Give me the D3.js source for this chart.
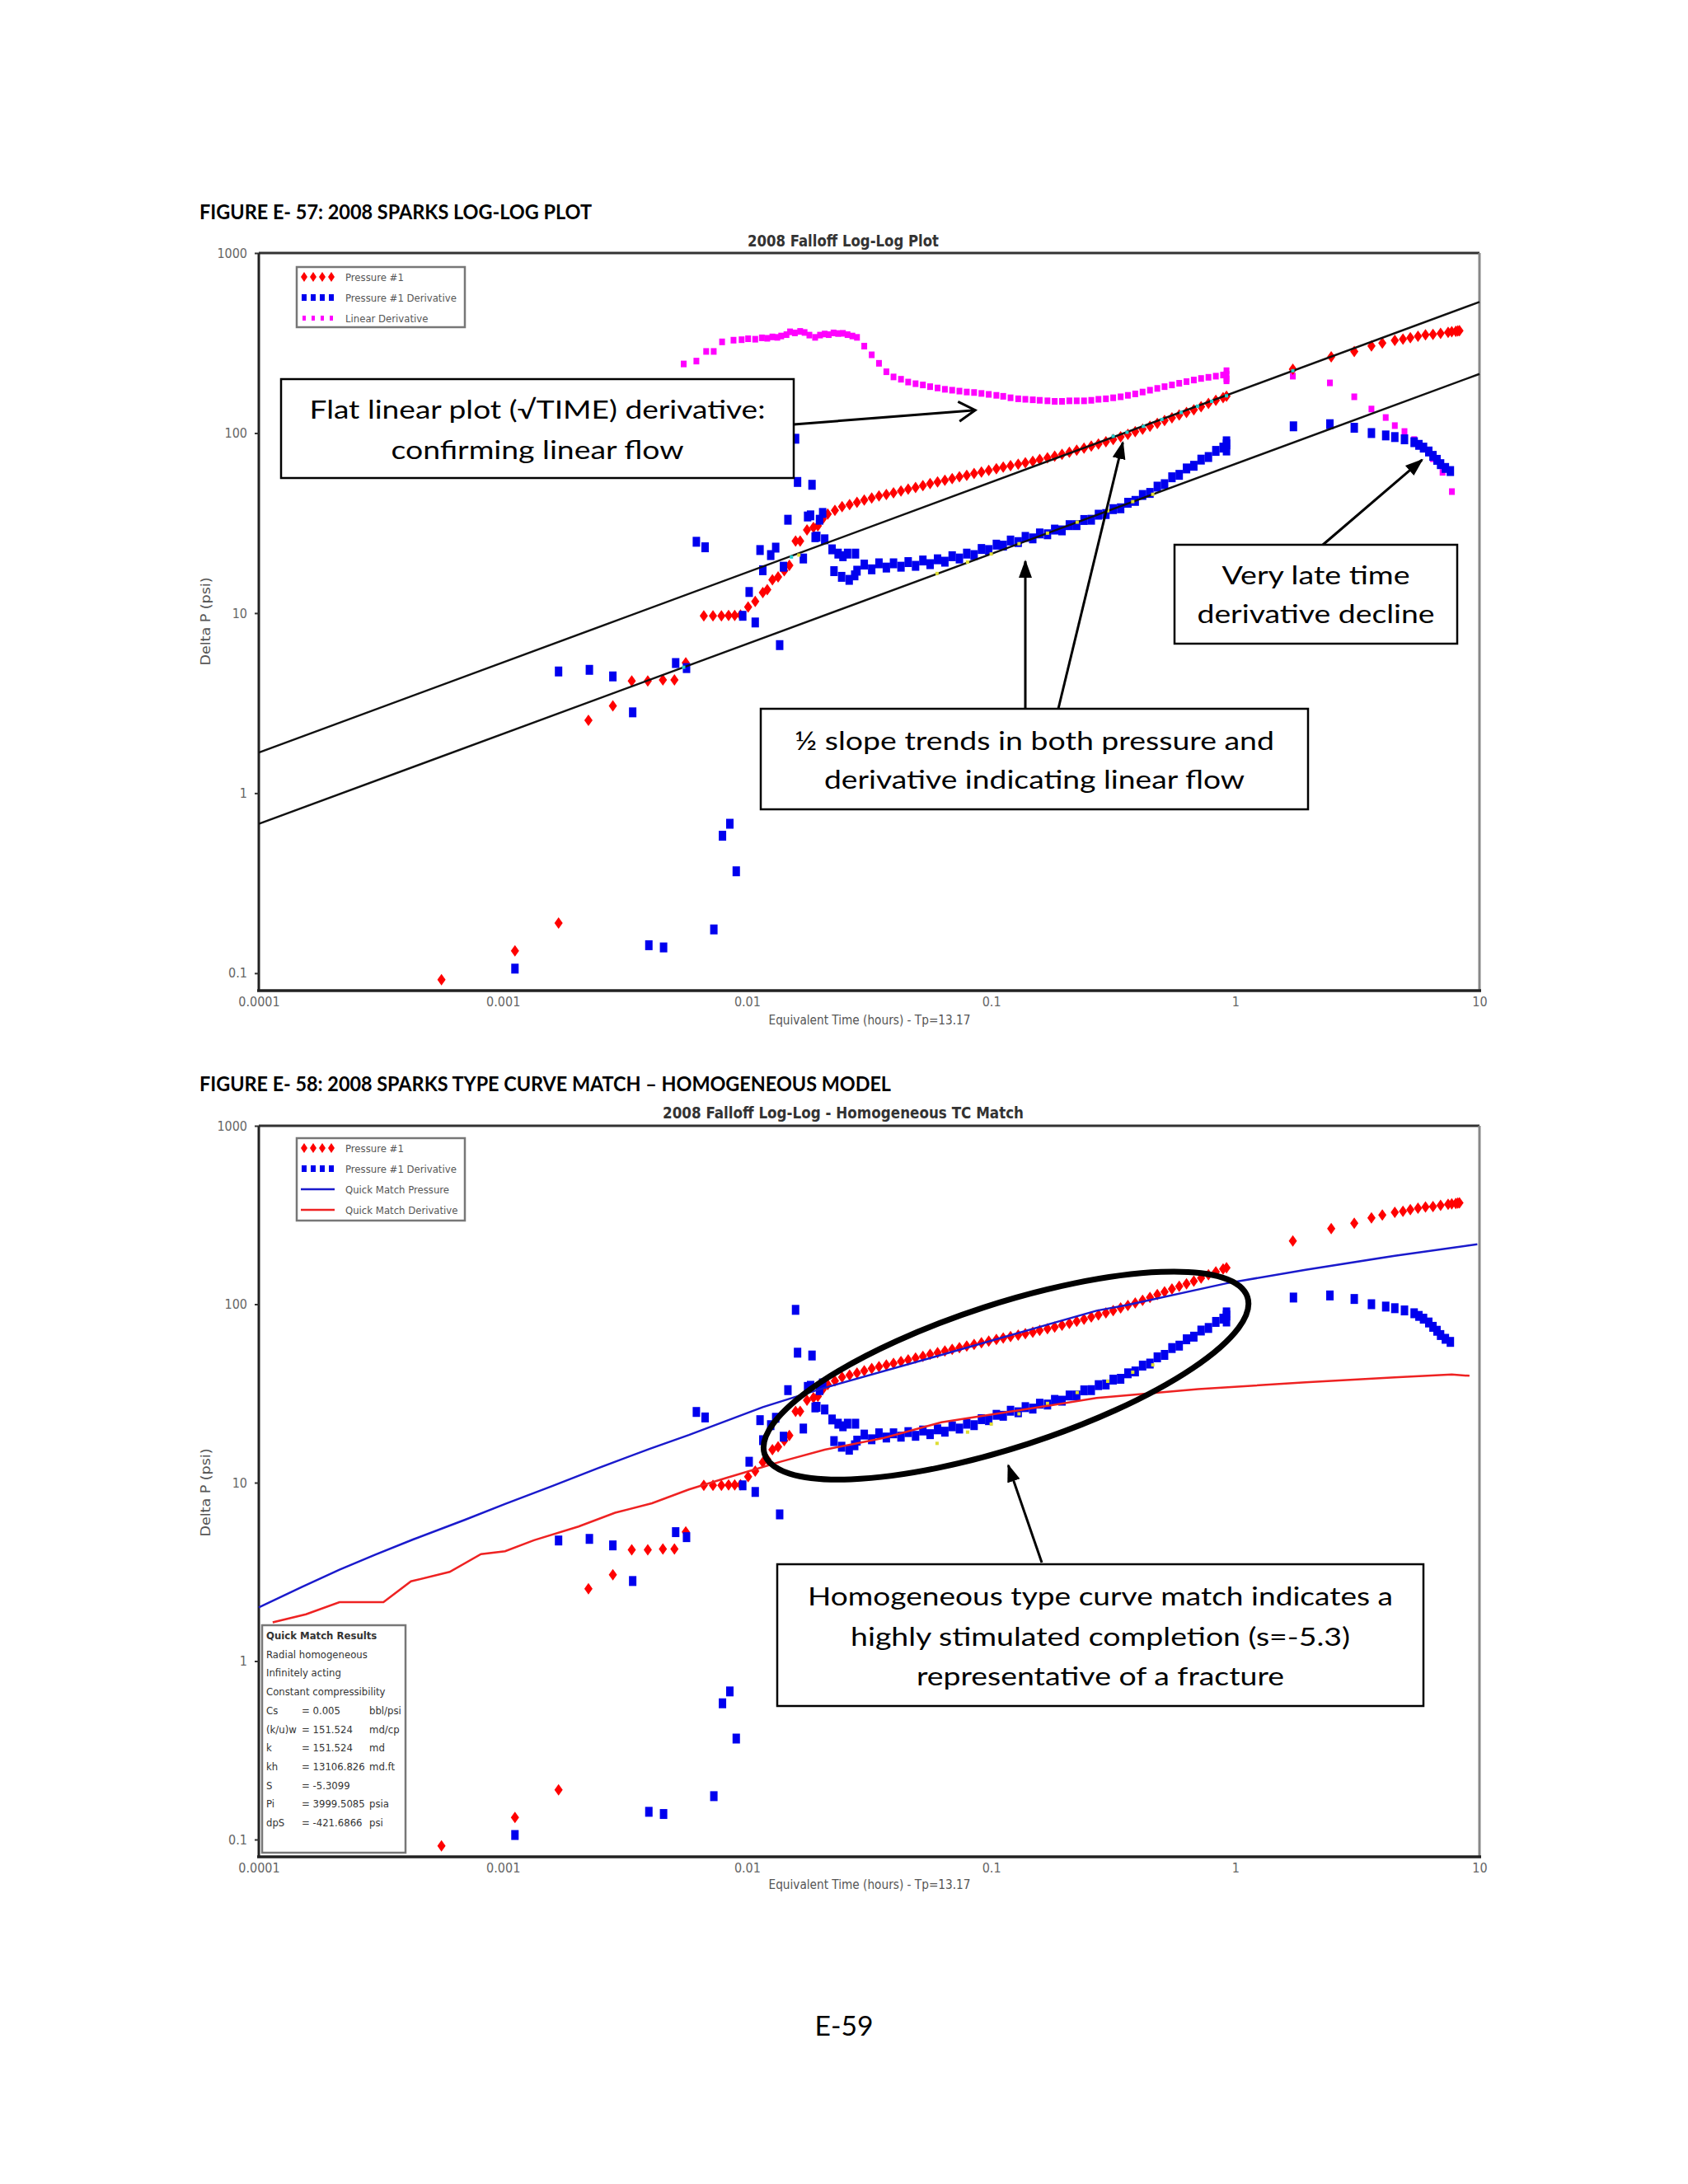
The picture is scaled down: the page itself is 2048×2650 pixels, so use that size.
<!DOCTYPE html>
<html>
<head>
<meta charset="utf-8">
<script src="https://cdn.jsdelivr.net/npm/d3@7"></script>
<style>
  body { margin:0; background:#fff; }
  svg { display:block; }
</style>
</head>
<body>
<svg id="page" width="2048" height="2650"></svg>
<script>
// values: [equivalent time (hr), delta P (psi)]

var pressureEarly = [[0.00056,0.092],[0.00112,0.133],[0.00169,0.19],[0.00224,2.54],[0.00282,3.05],[0.00337,4.2],
  [0.00392,4.2],[0.00452,4.25],[0.00504,4.25],[0.00561,5.3],[0.00665,9.66],[0.00725,9.66],[0.00785,9.66],[0.0084,9.7],
  [0.0089,9.7],[0.0094,9.75],[0.0101,10.8],[0.0108,11.6],[0.0116,13.0],[0.0121,13.5],[0.0127,15.3],[0.0134,15.9],
  [0.0142,17.2],[0.0149,18.4],[0.0158,25.1],[0.0165,25.1],[0.0176,29.0],[0.0187,29.9]];

var pressureDense = [[0.0195,30.5],[0.0204,33.3],[0.0214,35.5],[0.0229,37.2],[0.0245,39.0],[0.0263,40.1],[0.0282,41.2],
  [0.0302,42.4],[0.0324,43.6],[0.0347,44.7],[0.0372,45.6],[0.0398,46.6],[0.0427,47.7],[0.0457,48.8],[0.049,49.9],
  [0.0525,51.1],[0.0562,52.4],[0.0603,53.5],[0.0646,54.7],[0.0692,55.9],[0.0741,57.1],[0.0794,58.3],[0.0851,59.6],
  [0.0912,60.8],[0.0977,62.1],[0.105,63.4],[0.112,64.7],[0.12,65.9],[0.129,67.2],[0.138,68.4],[0.148,69.7],[0.158,71.3],
  [0.17,72.9],[0.182,74.5],[0.195,76.2],[0.209,78.2],[0.224,80.3],[0.24,82.4],[0.257,84.7],[0.275,87.0],[0.295,89.4],
  [0.316,92.2],[0.339,95.3],[0.363,98.5],[0.389,101.7],[0.417,105.2],[0.447,109.1],[0.479,113.2],[0.513,117.4],
  [0.55,121.6],[0.589,125.9],[0.631,130.2],[0.676,134.8],[0.724,140.0],[0.776,146.2],[0.832,152.0],[0.891,157.4],[0.92,160]];

var pressureLate = [[1.72,226],[2.47,265],[3.07,284],[3.61,305],[4.0,316],[4.5,327],[4.86,332],[5.21,339],[5.6,345],
  [6.01,351],[6.45,353],[6.93,358],[7.44,363],[7.7,365],[8.0,367],[8.15,369],[8.28,370]];

var derivEarly = [[0.00112,0.106],[0.00169,4.74],[0.00226,4.84],[0.00282,4.45],[0.0034,2.81],[0.00396,0.143],
  [0.00455,0.139],[0.0051,5.28],[0.00565,4.95],[0.0062,24.9],[0.00673,23.2],[0.00731,0.175],[0.00793,0.58],[0.0085,0.676],
  [0.00903,0.368],[0.0096,9.66],[0.0102,13.1],[0.0108,8.87],[0.0113,22.4],[0.0116,17.3],[0.0125,21],[0.0131,23.1],
  [0.0136,6.64],[0.0141,18.1],[0.0147,33],[0.0158,93],[0.0161,53.5],[0.017,20.1],[0.0177,34.4],[0.0182,34.9],
  [0.01845,51.6],[0.019,26.4],[0.0193,26.6],[0.0198,33],[0.0204,36],[0.0208,25.7],[0.0223,22.6],[0.0227,17.1],
  [0.0236,21.4],[0.0244,15.9],[0.0247,20.7],[0.0258,21.4],[0.0262,15.3],[0.0278,21.4],[0.0276,16.2]];

var derivDense = [[0.0282,17.2],[0.0302,18.6],[0.0324,17.5],[0.0347,18.9],[0.0372,17.9],[0.0398,18.9],[0.0427,18.1],
  [0.0457,19.2],[0.049,18.3],[0.0525,19.6],[0.0562,18.7],[0.0603,19.9],[0.0646,19.3],[0.0692,20.7],[0.0741,20.1],
  [0.0794,21.4],[0.0851,21.0],[0.0912,22.7],[0.0977,22.4],[0.105,24.0],[0.112,23.7],[0.12,25.3],[0.129,24.8],
  [0.138,26.5],[0.148,26.0],[0.158,27.7],[0.17,27.4],[0.182,29.1],[0.195,28.8],[0.209,30.8],[0.224,30.8],[0.24,32.9],
  [0.257,33.0],[0.275,35.2],[0.295,35.5],[0.316,37.8],[0.339,38.2],[0.363,41.0],[0.389,42.0],[0.417,45.3],[0.447,46.5],
  [0.479,50.4],[0.513,52.0],[0.55,56.8],[0.589,58.6],[0.631,63.6],[0.676,65.8],[0.724,71.2],[0.776,73.6],[0.832,79.6],
  [0.891,83.0],[0.92,86.5],[0.92,80],[0.92,90]];

var derivLate = [[1.73,109],[2.44,112],[3.07,107],[3.61,100],[4.13,97],[4.5,95],[4.93,92.3],[5.4,89],[5.65,86],
  [5.9,83],[6.2,79],[6.45,74.7],[6.7,71],[6.93,67.2],[7.25,64],[7.6,61.5]];

var linDerivEarly = [[0.0055,242],[0.0062,251],[0.0068,284],[0.0073,284],[0.0079,321],[0.0088,328],[0.0095,330],
  [0.0101,334],[0.0108,332],[0.0115,338],[0.0121,336],[0.0127,342],[0.0133,340],[0.0138,346],[0.0145,352],[0.015,365],
  [0.0157,360],[0.0165,367],[0.0172,362],[0.018,350],[0.019,340],[0.0199,350],[0.0208,355],[0.0216,352],[0.0226,360],
  [0.0236,357],[0.0247,358],[0.0258,352],[0.027,346]];

var linDerivDense = [[0.0282,340],[0.0302,304],[0.0324,272],[0.0347,244],[0.0372,219],[0.0398,205],[0.0427,199],
  [0.0457,192],[0.049,188],[0.0525,185],[0.0562,181],[0.0603,178],[0.0646,175],[0.0692,173],[0.0741,171],[0.0794,169],
  [0.0851,168],[0.0912,166],[0.0977,164],[0.105,162],[0.112,160],[0.12,157],[0.129,155],[0.138,154],[0.148,153],
  [0.158,152],[0.17,151],[0.182,150],[0.195,150],[0.209,151],[0.224,151],[0.24,151],[0.257,152],[0.275,154],[0.295,155],
  [0.316,157],[0.339,159],[0.363,162],[0.389,165],[0.417,169],[0.447,173],[0.479,177],[0.513,181],[0.55,185],[0.589,189],
  [0.631,193],[0.676,197],[0.724,201],[0.776,204],[0.832,207],[0.891,210],[0.92,212],[0.92,200],[0.92,222],[0.92,195]];

var linDerivLate = [[1.72,207],[2.44,190],[3.07,159],[3.61,136],[4.13,122],[4.5,110],[4.93,102],[5.4,92],[5.9,83],
  [6.45,72],[7.06,60.5],[7.71,47.3]];

// the two half-slope straight lines on the first plot (end points)
var upperHalfSlope = [[0.0001,1.68],[10,535]];
var lowerHalfSlope = [[0.0001,0.675],[10,213]];
var cyanFit = [[0.0055,5.0],[0.0152,20.5],[0.316,96],[0.36,101],[0.42,109],[0.5,119],[0.6,130],[0.7,141],[0.8,150],[0.92,161],[1.72,222]];
var yellowFit = [[0.0163,21.0],[0.06,16.6],[0.08,19.2],[0.1,21.3],[0.13,24.3],[0.17,27.8],[0.225,32],[0.3,37],[0.38,41.6],[0.459,45.7]];

// quick match model curves on the second plot
var matchPressure = [[0.0001,2.0],[0.00015,2.6],[0.000214,3.25],[0.0003,3.95],[0.000428,4.8],[0.0007,6.2],
  [0.00102,7.6],[0.0016,9.6],[0.00243,12.0],[0.004,15.5],[0.00578,18.5],[0.0116,26.5],[0.02,33.5],[0.0625,52],
  [0.27,92],[0.36,99],[0.92,131],[1.94,156],[4.5,187],[9.8,217]];
var matchDerivative = [[0.000114,1.65],[0.000156,1.83],[0.000214,2.14],[0.000324,2.14],[0.00042,2.8],[0.000605,3.16],
  [0.000813,3.98],[0.00102,4.13],[0.00134,4.76],[0.00204,5.68],[0.00288,6.78],[0.00408,7.67],[0.00578,9.16],
  [0.00817,10.6],[0.0137,13.1],[0.0208,15.3],[0.0363,17.8],[0.0625,21.8],[0.16,26.6],[0.27,29.8],[0.705,33.4],
  [1.94,36.5],[4.5,38.9],[7.7,40.4],[9.1,39.7]];

var xTicks = [0.0001,0.001,0.01,0.1,1,10];
var yTicks = [0.1,1,10,100,1000];

var quickMatchRows = [["Cs","= 0.005","bbl/psi"],["(k/u)w","= 151.524","md/cp"],["k","= 151.524","md"],
  ["kh","= 13106.826","md.ft"],["S","= -5.3099",""],["Pi","= 3999.5085","psia"],["dpS","= -421.6866","psi"]];

var narrow = "'Liberation Sans Narrow','DejaVu Sans Condensed','Arial Narrow',sans-serif";
var calibri = "Lato,'Open Sans',sans-serif";

var svg = d3.select('#page');
svg.append('rect').attr('width',2048).attr('height',2650).attr('fill','#fff');

var defs = svg.append('defs');
defs.append('marker').attr('id','headFill').attr('markerUnits','userSpaceOnUse')
    .attr('markerWidth',24).attr('markerHeight',20).attr('refX',20).attr('refY',10).attr('orient','auto')
    .append('path').attr('d','M0,2 L22,10 L0,18 Z').attr('fill','#000');
defs.append('marker').attr('id','headOpen').attr('markerUnits','userSpaceOnUse')
    .attr('markerWidth',30).attr('markerHeight',30).attr('refX',22).attr('refY',15).attr('orient','auto')
    .append('path').attr('d','M2,3 L22,15 L2,27').attr('fill','none').attr('stroke','#000').attr('stroke-width',3);

var x = d3.scaleLog().domain([1e-4,10]).range([314,1795]);
var y1 = d3.scaleLog().domain([0.08,1000]).range([1202,307]);
var y2 = d3.scaleLog().domain([0.08,1000]).range([2253,1366]);

function frame(y, top, bottom) {
    var g = svg.append('g');
    g.append('line').attr('x1',314).attr('x2',1795).attr('y1',top).attr('y2',top).attr('stroke','#333').attr('stroke-width',3);
    g.append('line').attr('x1',1795).attr('x2',1795).attr('y1',top).attr('y2',bottom).attr('stroke','#888').attr('stroke-width',3);

    svg.append('g').attr('transform','translate(314,0)')
        .call(d3.axisLeft(y).tickValues(yTicks).tickSize(5).tickPadding(9).tickFormat(function(d) { return String(d); }))
        .call(function(a) { a.select('.domain').remove(); })
        .call(function(a) { a.selectAll('text').attr('font-family',narrow).attr('font-size',16).attr('fill','#666'); })
        .call(function(a) { a.selectAll('line').attr('stroke','#333').attr('stroke-width',2); });

    svg.append('g').attr('transform','translate(0,'+bottom+')')
        .call(d3.axisBottom(x).tickValues(xTicks).tickSize(0).tickPadding(8).tickFormat(function(d) { return String(d); }))
        .call(function(a) { a.select('.domain').remove(); })
        .call(function(a) { a.selectAll('text').attr('font-family',narrow).attr('font-size',16).attr('fill','#666'); });

    g.append('line').attr('x1',314).attr('x2',314).attr('y1',top).attr('y2',bottom).attr('stroke','#222').attr('stroke-width',3);
    g.append('line').attr('x1',312).attr('x2',1797).attr('y1',bottom).attr('y2',bottom).attr('stroke','#222').attr('stroke-width',3.5);
}

var diamond = 'M0,-7 L5,0 L0,7 L-5,0 Z';

function redPts(g, data, y) {
    g.append('g').selectAll('path').data(data).enter().append('path')
        .attr('d', diamond)
        .attr('transform', function(d) { return 'translate('+x(d[0])+','+y(d[1])+')'; })
        .attr('fill','#ff0000');
}
function bluePts(g, data, y) {
    g.append('g').selectAll('rect').data(data).enter().append('rect')
        .attr('x', function(d) { return x(d[0]) - 4.5; })
        .attr('y', function(d) { return y(d[1]) - 6; })
        .attr('width',9).attr('height',12).attr('fill','#0000ee');
}
function magPts(g, data, y) {
    g.append('g').selectAll('rect').data(data).enter().append('rect')
        .attr('x', function(d) { return x(d[0]) - 3.5; })
        .attr('y', function(d) { return y(d[1]) - 4; })
        .attr('width',7).attr('height',8).attr('fill','#ff00ff');
}
function smallPts(g, data, y, col) {
    g.append('g').selectAll('rect').data(data).enter().append('rect')
        .attr('x', function(d) { return x(d[0]) - 2; })
        .attr('y', function(d) { return y(d[1]) - 2; })
        .attr('width',4).attr('height',4).attr('fill',col);
}

function legend(left, top, w, h, rows) {
    var g = svg.append('g');
    g.append('rect').attr('x',left).attr('y',top).attr('width',w).attr('height',h)
        .attr('fill','#fff').attr('stroke','#777').attr('stroke-width',2.5);
    rows.forEach(function(r, i) {
        var ry = top + 12 + i*25;
        if (r.kind == 'red' || r.kind == 'blue' || r.kind == 'mag') {
            [0,1,2,3].forEach(function(k) {
                var mx = left + 9 + k*11;
                if (r.kind == 'red') g.append('path').attr('d', 'M0,-6 L4,0 L0,6 L-4,0 Z')
                    .attr('transform','translate('+mx+','+ry+')').attr('fill','#ff0000');
                if (r.kind == 'blue') g.append('rect').attr('x',mx-3).attr('y',ry-4).attr('width',6).attr('height',8).attr('fill','#0000ee');
                if (r.kind == 'mag') g.append('rect').attr('x',mx-2).attr('y',ry-3).attr('width',4).attr('height',6).attr('fill','#ff00ff');
            });
        } else {
            g.append('line').attr('x1',left+5).attr('x2',left+46).attr('y1',ry).attr('y2',ry)
                .attr('stroke', r.kind == 'bline' ? '#1a1acc' : '#ee2222').attr('stroke-width',2.5);
        }
        g.append('text').attr('x',left+59).attr('y',ry+5).text(r.label)
            .attr('font-family',narrow).attr('font-size',13).attr('fill','#555');
    });
}

function textLine(t, cx, by, size, len, opts) {
    var el = svg.append('text').attr('x',cx).attr('y',by).text(t)
        .attr('text-anchor','middle').attr('font-size',size)
        .attr('font-family', opts && opts.family ? opts.family : calibri)
        .attr('fill', opts && opts.fill ? opts.fill : '#000');
    if (opts && opts.bold) el.attr('font-weight','bold');
    if (len) el.attr('textLength',len).attr('lengthAdjust','spacingAndGlyphs');
    return el;
}

function box(x0, y0, x1, y1b, lines) {
    svg.append('rect').attr('x',x0).attr('y',y0).attr('width',x1-x0).attr('height',y1b-y0)
        .attr('fill','#fff').attr('stroke','#000').attr('stroke-width',2.5);
    lines.forEach(function(l) { textLine(l[0], (x0+x1)/2, l[1], 31, l[2]); });
}

function arrow(x0, y0, x1, y1b, head) {
    svg.append('line').attr('x1',x0).attr('y1',y0).attr('x2',x1).attr('y2',y1b)
        .attr('stroke','#000').attr('stroke-width',3).attr('marker-end','url(#'+head+')');
}

// ---------------- page captions ----------------
textLine('FIGURE E- 57:  2008 SPARKS LOG-LOG PLOT', 480, 266, 24, 476, {bold:true}).attr('text-anchor','start').attr('x',242);
textLine('FIGURE E- 58:  2008 SPARKS TYPE CURVE MATCH \u2013 HOMOGENEOUS MODEL', 660, 1324, 24, 839, {bold:true}).attr('text-anchor','start').attr('x',242);
textLine('E-59', 1024, 2470, 32, 71);

// ---------------- plot 1 ----------------
frame(y1, 307, 1202);
textLine('2008 Falloff Log-Log Plot', 1023, 299, 19, 232, {family:narrow, bold:true, fill:'#333'});
textLine('Equivalent Time (hours) - Tp=13.17', 1055, 1243, 15, 245, {family:narrow, fill:'#555'});
textLine('Delta P (psi)', 0, 0, 15, 107, {family:narrow, fill:'#555'}).attr('transform','translate(255,754) rotate(-90)');

var p1 = svg.append('g');
magPts(p1, linDerivEarly.concat(linDerivDense, linDerivLate), y1);
redPts(p1, pressureEarly.concat(pressureDense, pressureLate), y1);
bluePts(p1, derivEarly.concat(derivDense, derivLate), y1);

var line1 = d3.line().x(function(d) { return x(d[0]); }).y(function(d) { return y1(d[1]); });
p1.append('path').datum(upperHalfSlope).attr('d',line1).attr('fill','none').attr('stroke','#111').attr('stroke-width',2.5);
p1.append('path').datum(lowerHalfSlope).attr('d',line1).attr('fill','none').attr('stroke','#111').attr('stroke-width',2.5);
smallPts(p1, cyanFit, y1, '#22cccc');
smallPts(p1, yellowFit, y1, '#dddd33');

legend(360, 324, 204, 73, [{kind:'red',label:'Pressure #1'},{kind:'blue',label:'Pressure #1 Derivative'},{kind:'mag',label:'Linear Derivative'}]);

// annotations, plot 1
box(341, 460, 963, 580, [['Flat linear plot (\u221ATIME) derivative:',508,553],['confirming linear flow',557,355]]);
arrow(963, 515, x(0.086), y1(134), 'headOpen');
box(1425, 661, 1768, 781, [['Very late time',709,228],['derivative decline',756,288]]);
arrow(1605, 661, x(5.82), y1(71), 'headFill');
box(923, 860, 1587, 982, [['\u00BD slope trends in both pressure and',910,582],['derivative indicating linear flow',957,510]]);
arrow(1244, 860, x(0.138), y1(19.4), 'headFill');
arrow(1284, 860, x(0.346), y1(88.7), 'headFill');

// ---------------- plot 2 ----------------
frame(y2, 1366, 2253);
textLine('2008 Falloff Log-Log - Homogeneous TC Match', 1023, 1357, 19, 438, {family:narrow, bold:true, fill:'#333'});
textLine('Equivalent Time (hours) - Tp=13.17', 1055, 2292, 15, 245, {family:narrow, fill:'#555'});
textLine('Delta P (psi)', 0, 0, 15, 107, {family:narrow, fill:'#555'}).attr('transform','translate(255,1811) rotate(-90)');

var p2 = svg.append('g');
redPts(p2, pressureEarly.concat(pressureDense, pressureLate), y2);
bluePts(p2, derivEarly.concat(derivDense, derivLate), y2);
smallPts(p2, yellowFit.slice(1), y2, '#dddd33');

var line2 = d3.line().x(function(d) { return x(d[0]); }).y(function(d) { return y2(d[1]); });
p2.append('path').datum(matchPressure).attr('d',line2).attr('fill','none').attr('stroke','#1a1acc').attr('stroke-width',2.5);
p2.append('path').datum(matchDerivative).attr('d',line2).attr('fill','none').attr('stroke','#ee2222').attr('stroke-width',2.5);

legend(360, 1381, 204, 100, [{kind:'red',label:'Pressure #1'},{kind:'blue',label:'Pressure #1 Derivative'},
    {kind:'bline',label:'Quick Match Pressure'},{kind:'rline',label:'Quick Match Derivative'}]);

// quick match results panel
var qm = svg.append('g');
qm.append('rect').attr('x',318).attr('y',1972).attr('width',174).attr('height',276)
    .attr('fill','#fff').attr('stroke','#777').attr('stroke-width',2.5);
var qmHead = ['Quick Match Results','Radial homogeneous','Infinitely acting','Constant compressibility'];
qmHead.forEach(function(t, i) {
    qm.append('text').attr('x',323).attr('y',1989 + i*22.7).text(t)
        .attr('font-family',narrow).attr('font-size',13).attr('fill','#333')
        .attr('font-weight', i == 0 ? 'bold' : 'normal');
});
quickMatchRows.forEach(function(r, i) {
    var ry = 1989 + (i+4)*22.7;
    qm.append('text').attr('x',323).attr('y',ry).text(r[0]).attr('font-family',narrow).attr('font-size',13).attr('fill','#333');
    qm.append('text').attr('x',366).attr('y',ry).text(r[1]).attr('font-family',narrow).attr('font-size',13).attr('fill','#333');
    qm.append('text').attr('x',448).attr('y',ry).text(r[2]).attr('font-family',narrow).attr('font-size',13).attr('fill','#333');
});

// ellipse + annotation, plot 2
var ecx = x(0.115), ecy = y2(39.8);
svg.append('ellipse').attr('cx',ecx).attr('cy',ecy).attr('rx',308).attr('ry',87)
    .attr('transform','rotate(-18,'+ecx+','+ecy+')')
    .attr('fill','none').attr('stroke','#000').attr('stroke-width',7);
box(943, 1898, 1727, 2070, [['Homogeneous type curve match indicates a',1948,710],
    ['highly stimulated completion (s=-5.3)',1997,606],['representative of a fracture',2045,446]]);
arrow(1264, 1896, x(0.1175), y2(12.5), 'headFill');
</script>
</body>
</html>
